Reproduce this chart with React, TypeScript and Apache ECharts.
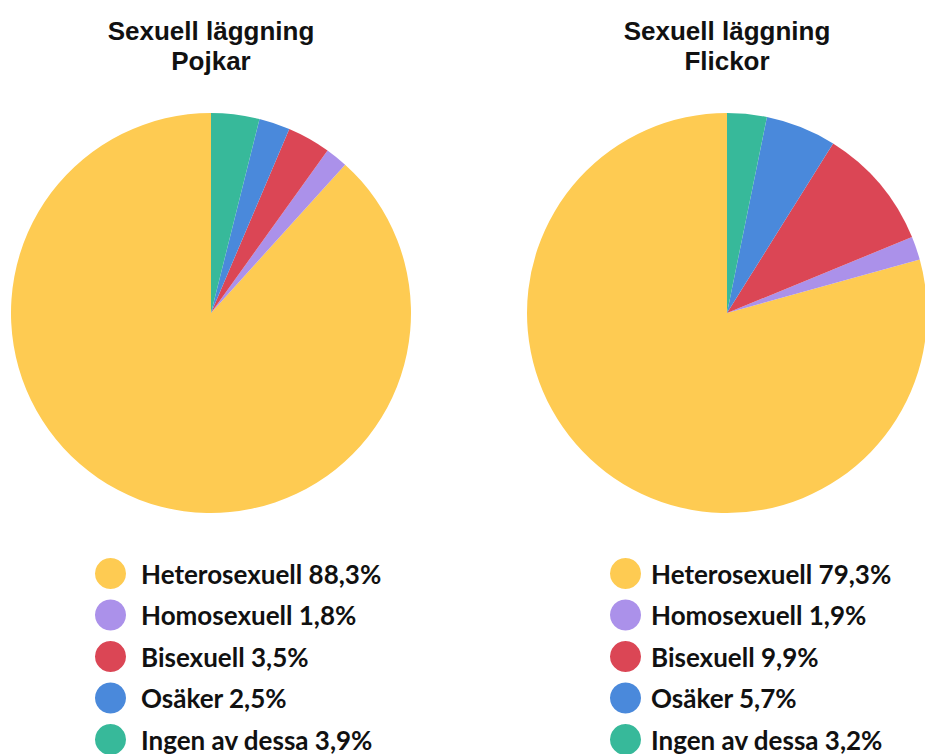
import React, { useEffect, useRef } from "react";
import * as echarts from "echarts";

const categories = ["Heterosexuell", "Homosexuell", "Bisexuell", "Osäker", "Ingen av dessa"];
const boysValues = [88.3, 1.8, 3.5, 2.5, 3.9];
const girlsValues = [79.3, 1.9, 9.9, 5.7, 3.2];
const colors = ["#FECB52", "#AB91EA", "#DB4655", "#4A89DB", "#37B99A"];
const titles = ["Sexuell läggning\nPojkar", "Sexuell läggning\nFlickor"];

const fmt = (v: number) => v.toFixed(1).replace(".", ",") + "%";

export default function App() {
  const ref = useRef<HTMLDivElement>(null);
  useEffect(() => {
    if (!ref.current) return;
    const chart = echarts.init(ref.current, null, { renderer: "svg" });
    const makeData = (vals: number[]) =>
      categories.map((c, i) => ({ name: c, value: vals[i], itemStyle: { color: colors[i] } }));
    const legendBase = {
      orient: "vertical" as const,
      icon: "circle",
      itemWidth: 31,
      itemHeight: 31,
      itemGap: 10.5,
      top: 558,
      height: 250,
      padding: 0,
      selectedMode: false,
      data: categories,
    };
    const legendText = (pad: number) => ({
      fontFamily: "Lato",
      fontWeight: "bold" as const,
      fontSize: 26,
      color: "#111",
      padding: [0, 0, 0, pad],
    });
    const titleStyle = {
      fontFamily: "Liberation Sans, Arial",
      fontWeight: "bold" as const,
      fontSize: 26,
      lineHeight: 30,
      color: "#111",
    };
    chart.setOption({
      animation: false,
      title: [
        { text: titles[0], left: 211, top: 16, padding: 0, textAlign: "center", textStyle: titleStyle },
        { text: titles[1], left: 727, top: 16, padding: 0, textAlign: "center", textStyle: titleStyle },
      ],
      legend: [
        {
          ...legendBase,
          left: 95,
          textStyle: legendText(10),
          formatter: (n: string) => n + " " + fmt(boysValues[categories.indexOf(n)]),
        },
        {
          ...legendBase,
          left: 610,
          textStyle: legendText(5),
          formatter: (n: string) => n + " " + fmt(girlsValues[categories.indexOf(n)]),
        },
      ],
      series: [
        {
          type: "pie",
          center: [211, 313],
          radius: [0, 200],
          startAngle: 90,
          clockwise: false,
          label: { show: false },
          labelLine: { show: false },
          emphasis: { disabled: true },
          data: makeData(boysValues),
        },
        {
          type: "pie",
          center: [727, 313],
          radius: [0, 200],
          startAngle: 90,
          clockwise: false,
          label: { show: false },
          labelLine: { show: false },
          emphasis: { disabled: true },
          data: makeData(girlsValues),
        },
      ],
    });
    return () => chart.dispose();
  }, []);
  return (
    <div
      ref={ref}
      style={{ position: "absolute", left: 0, top: 0, width: 925, height: 754, overflow: "hidden" }}
    />
  );
}
